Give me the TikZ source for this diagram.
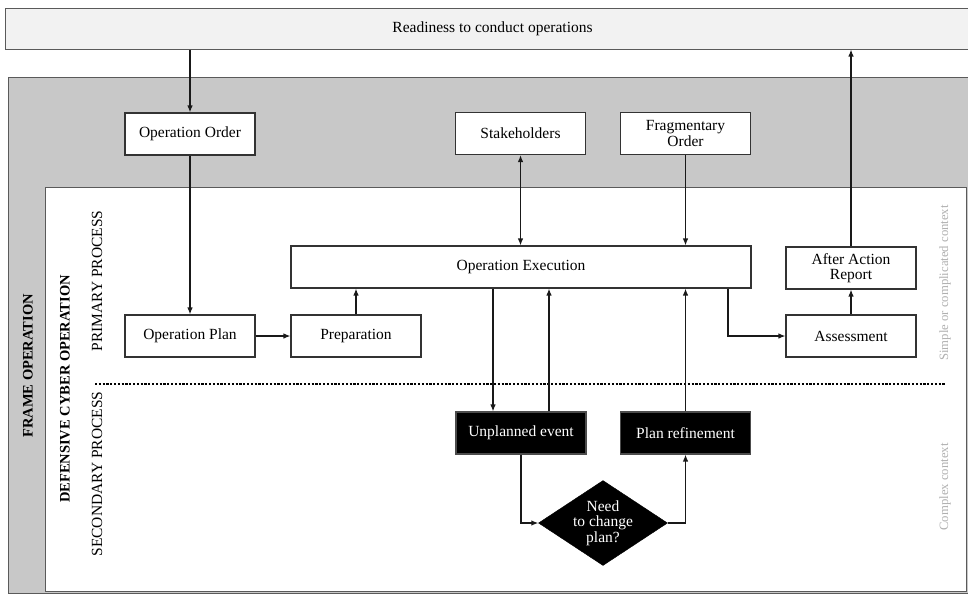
\documentclass[tikz,border=0pt]{standalone}
\usepackage{fontspec}
\setmainfont{Liberation Serif}
\usetikzlibrary{shapes.geometric,arrows.meta}
\definecolor{bandfill}{HTML}{F2F2F2}
\definecolor{framefill}{HTML}{C8C8C8}
\definecolor{edgegray}{HTML}{5A5A5A}
\definecolor{boxedge}{HTML}{333333}
\definecolor{ctxgray}{HTML}{B0B0B0}
\tikzset{
  txt/.style={font=\fontsize{15.5}{17}\selectfont},
  procbox/.style={txt, draw=boxedge, line width=1.1pt, fill=white, align=center,
    minimum width=130pt, minimum height=42pt, inner sep=2pt},
  darkbox/.style={procbox, fill=black, draw=black!70, text=white},
  decision/.style={diamond, draw=black, fill=black, minimum width=129pt,
    minimum height=85pt, inner sep=0pt},
  arr/.style={-{Latex[length=7pt,width=5.5pt]}, line width=1.2pt, draw=black!90},
  biarr/.style={{Latex[length=7pt,width=5.5pt]}-{Latex[length=7pt,width=5.5pt]}, line width=1.2pt, draw=black!90},
  sidelabel/.style={rotate=90, font=\fontsize{15.5}{17}\selectfont},
  boldlabel/.style={rotate=90, font=\fontsize{14.5}{16}\selectfont\bfseries},
  ctxlabel/.style={rotate=90, text=ctxgray, font=\fontsize{12.7}{14}\selectfont},
}
\begin{document}
\begin{tikzpicture}[x=1pt,y=-1pt]
\useasboundingbox (0,0) rectangle (968,595);

% outer band and frames
\node[txt, draw=edgegray, line width=1pt, fill=bandfill, minimum width=975pt,
  minimum height=41pt, inner sep=0pt] (ready) at (492.5,28.5) {Readiness to conduct operations};
\draw[draw=edgegray, line width=1pt, fill=framefill] (8,77) rectangle (985,593);
\draw[draw=edgegray, line width=1pt, fill=white] (45,187) rectangle (966,591);

% side labels
\node[boldlabel] at (28,366) {FRAME OPERATION};
\node[boldlabel] at (65,389) {DEFENSIVE CYBER OPERATION};
\node[sidelabel] at (97,281) {PRIMARY PROCESS};
\node[sidelabel] at (97,474) {SECONDARY PROCESS};
\node[ctxlabel] at (945,283) {Simple or complicated context};
\node[ctxlabel] at (945,487) {Complex context};

% boundary between primary and secondary process
\draw[line width=2.6pt, dash pattern=on 2.2pt off 1.6pt] (95,384) -- (945,384);

% process boxes
\node[procbox] (oporder) at (190,134) {Operation Order};
\node[procbox] (stake) at (520.5,133.5) {Stakeholders};
\node[procbox] (frag) at (685.5,133.5) {Fragmentary\\[-1.5pt]Order};
\node[procbox, minimum width=460pt] (exec) at (521,267) {Operation Execution};
\node[procbox] (aar) at (851,268) {After Action\\[-1.5pt]Report};
\node[procbox] (opplan) at (190,336) {Operation Plan};
\node[procbox] (prep) at (356,336) {Preparation};
\node[procbox] (assess) at (851,336) {Assessment};
\node[darkbox] (unpl) at (521,433) {Unplanned event};
\node[darkbox] (refine) at (685.5,433) {Plan refinement};
\node[decision, label={[txt, text=white, align=center]center:Need\\[-1.5pt]to change\\[-1.5pt]plan?}] (dec) at (603,523) {};

% connectors
\draw[arr] (ready.south -| oporder.north) -- (oporder.north);
\draw[arr] (oporder.south) -- (opplan.north);
\draw[arr] (opplan.east) -- (prep.west);
\draw[arr] (prep.north) -- (prep.north |- exec.south);
\draw[biarr] (stake.south) -- (stake.south |- exec.north);
\draw[arr] (frag.south) -- (frag.south |- exec.north);
\draw[arr] ([xshift=-28pt]unpl.north |- exec.south) -- ([xshift=-28pt]unpl.north);
\draw[arr] ([xshift=28pt]unpl.north) -- ([xshift=28pt]unpl.north |- exec.south);
\draw[arr] (refine.north) -- (refine.north |- exec.south);
\draw[arr] ([xshift=207pt]exec.south) |- (assess.west);
\draw[arr] (assess.north) -- (aar.south);
\draw[arr] (aar.north) -- (aar.north |- ready.south);
\draw[arr] (unpl.south) |- (dec.west);
\draw[arr] (dec.east) -| (refine.south);
\end{tikzpicture}
\end{document}
